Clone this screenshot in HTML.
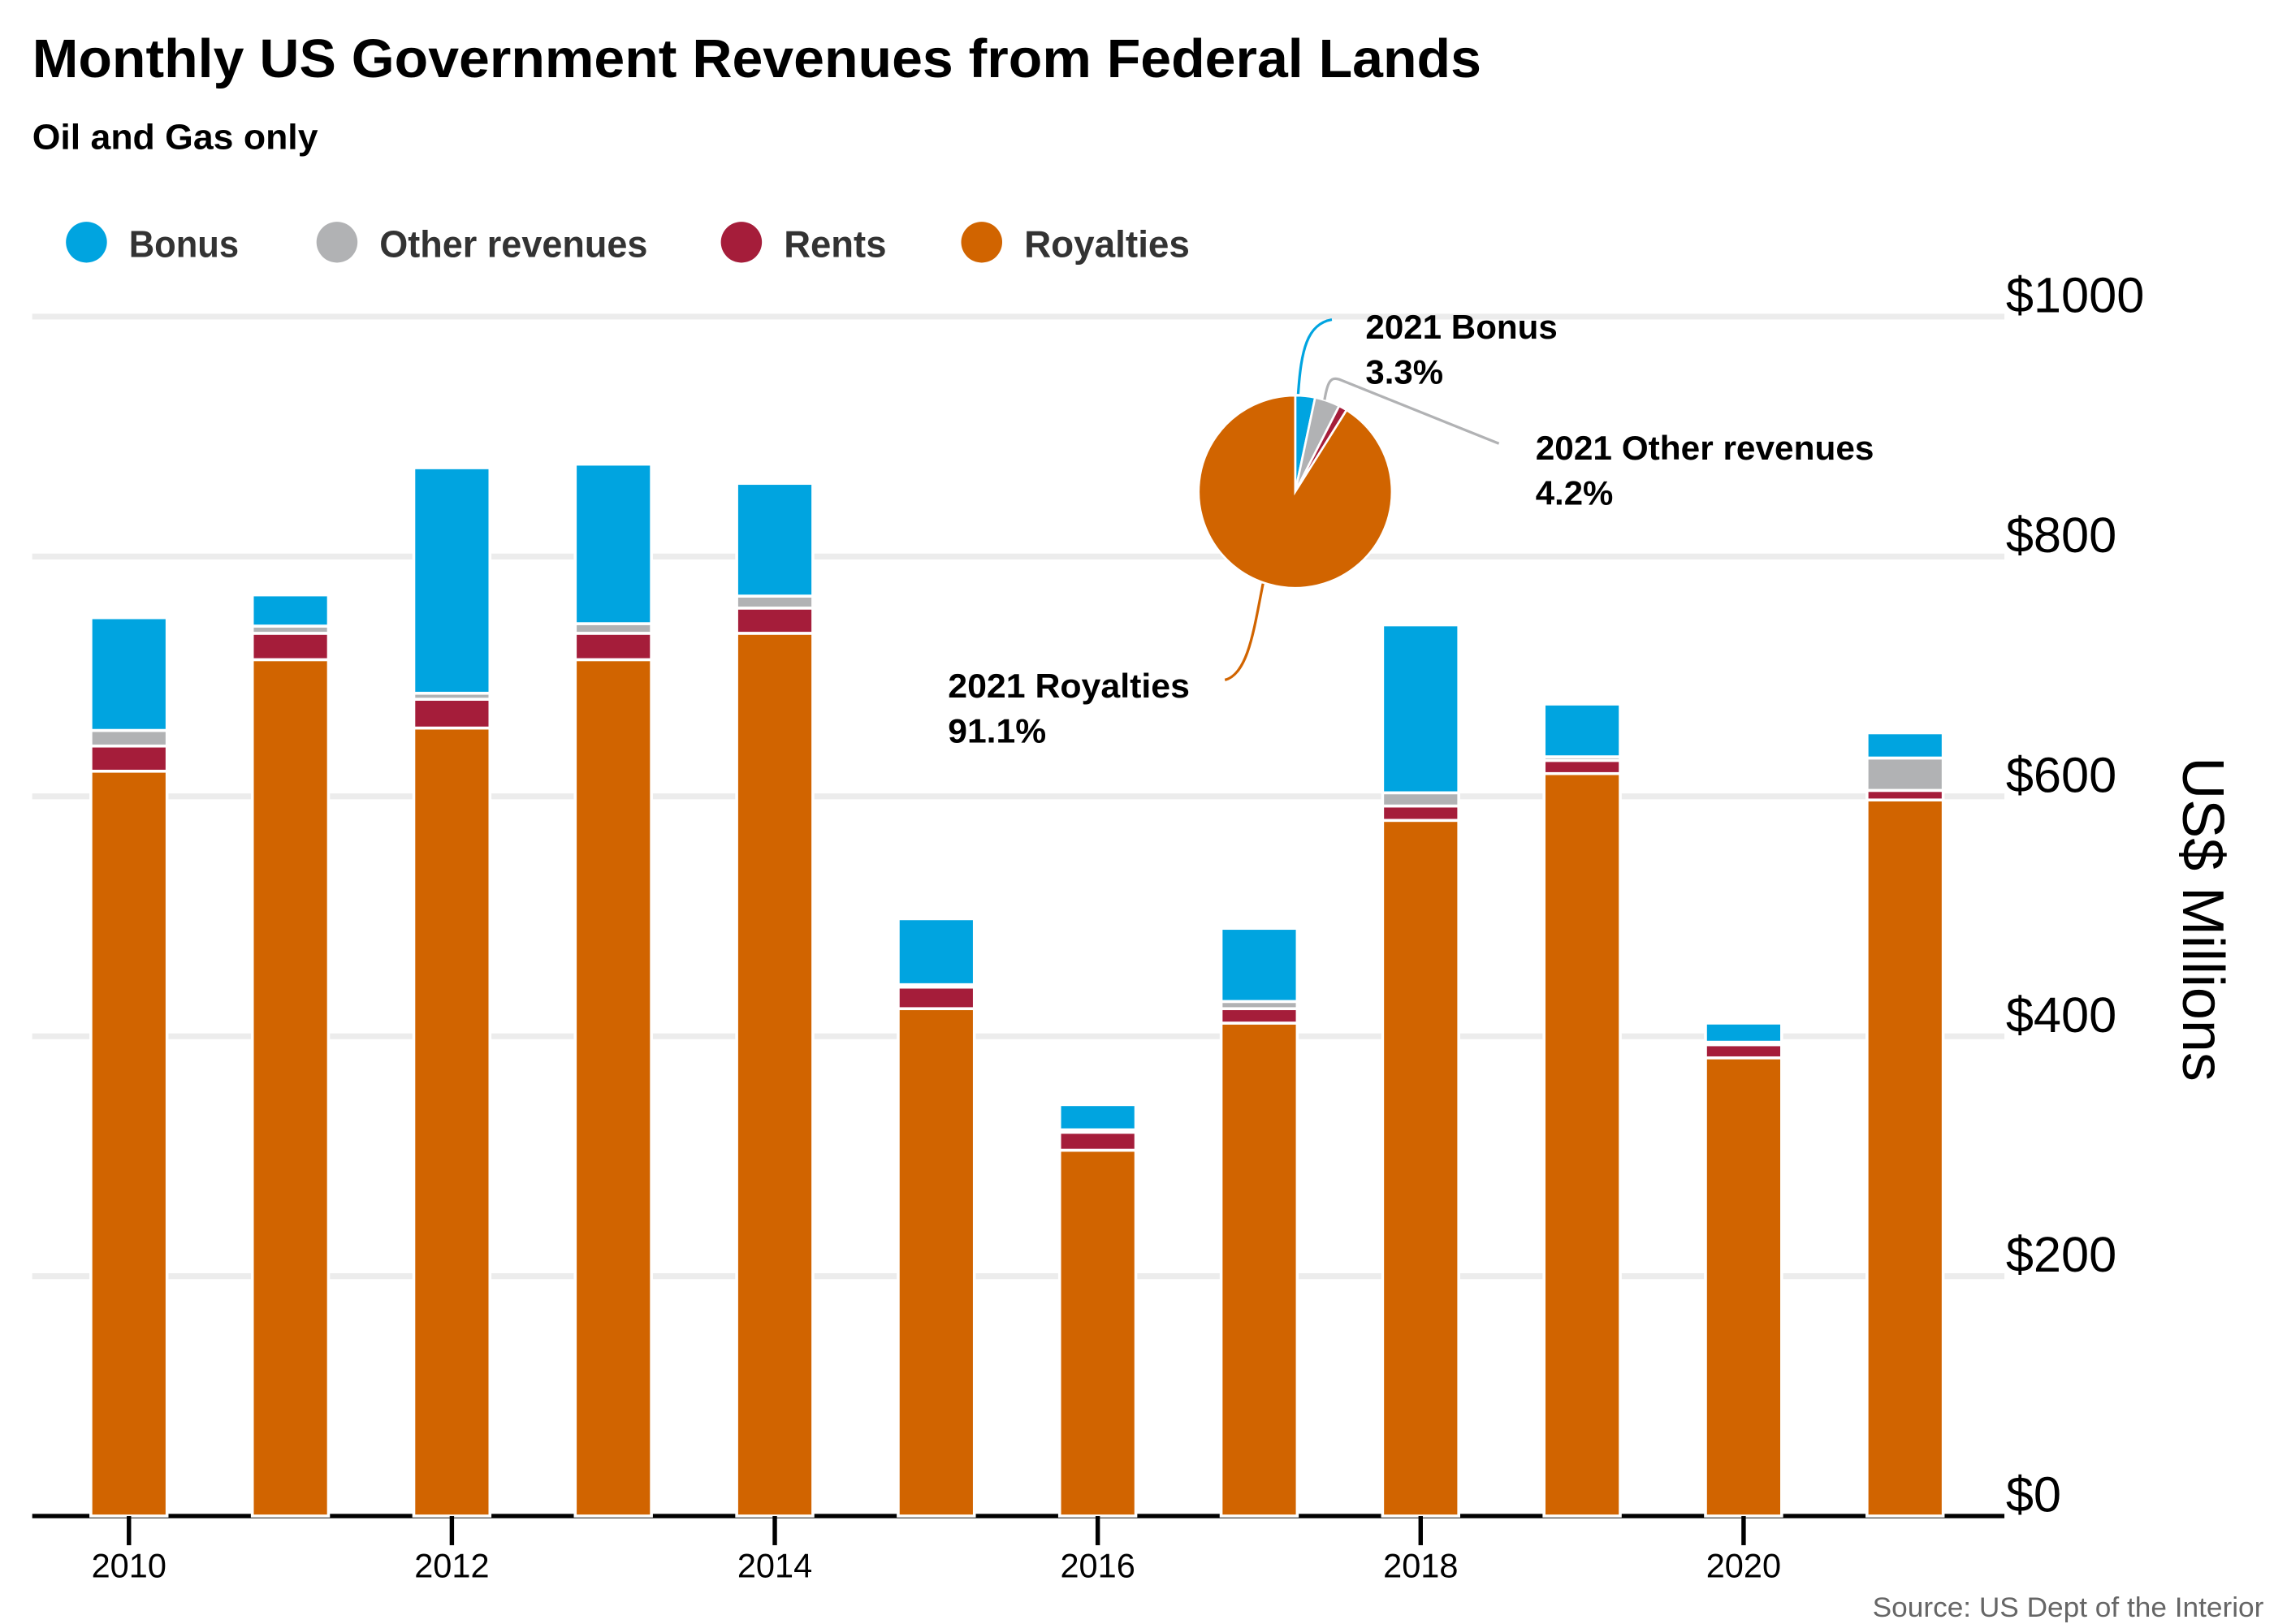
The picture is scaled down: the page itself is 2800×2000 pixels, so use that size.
<!DOCTYPE html>
<html><head><meta charset="utf-8">
<style>
html,body{margin:0;padding:0;background:#fff;}
svg{display:block;font-family:"Liberation Sans",sans-serif;}
</style></head>
<body>
<svg id="chart" width="2800" height="2000" viewBox="0 0 1552 1113" preserveAspectRatio="none" xmlns="http://www.w3.org/2000/svg">
<text x="22" y="53" font-size="37" font-weight="bold" fill="#000" textLength="989" lengthAdjust="spacingAndGlyphs">Monthly US Government Revenues from Federal Lands</text>
<text x="22" y="102" font-size="24" font-weight="bold" fill="#000" textLength="195" lengthAdjust="spacingAndGlyphs">Oil and Gas only</text>
<g id="legend"></g>
<g id="grid"></g>
<g id="bars"></g>
<g id="xaxis"></g>
<g id="yaxis"></g>
<text transform="translate(1490,630) rotate(90)" text-anchor="middle" font-size="40" fill="#000">US$ Millions</text>
<g id="pie"></g>
<text x="1545" y="1108" text-anchor="end" font-size="19" fill="#666" textLength="267" lengthAdjust="spacingAndGlyphs">Source: US Dept of the Interior</text>
</svg>
<script>
const years = [2010,2011,2012,2013,2014,2015,2016,2017,2018,2019,2020,2021];
const royalties = [621,714,657,714,736,423,305,411,580,619,382,597];
const rents = [21,22,24,22,21,18,15,12,12,11,11,8];
const otherRevenues = [13,6,5,8,10,2,2,6,11,3,2,27];
const bonus = [94,26,188,133,94,55,21,61,140,44,16,21];
const yTicks = [0,200,400,600,800,1000];
const yTickLabels = ["$0","$200","$400","$600","$800","$1000"];
const xTickYears = [2010,2012,2014,2016,2018,2020];
const pieLabels = ["Bonus","Other revenues","Rents","Royalties"];
const pieShares = [3.3,4.2,1.4,91.1];

const colors = {Bonus:"#00a4e0", "Other revenues":"#b1b2b4", Rents:"#a51d3a", Royalties:"#d16400"};
const NS = "http://www.w3.org/2000/svg";
function mk(tag, attrs, parent){const e=document.createElementNS(NS,tag);for(const k in attrs)e.setAttribute(k,attrs[k]);parent.appendChild(e);return e;}
const plotL=22, plotR=1368, y0=1039, yTop=217;
function yScale(v){return y0-(v/1000)*(y0-yTop);}
function xScale(yr){return 88+(yr-2010)*110.2;}
const bw=52;

// legend
const lg=document.getElementById('legend');
const legX=[59,230,506,670];
const legW=[75,183,70,113];
pieLabels.forEach((n,i)=>{
  const c=mk('circle',{cx:legX[i],cy:166,r:14,fill:colors[n]},lg);
  
  
  const t=mk('text',{x:legX[i]+29,y:176,'font-size':26,'font-weight':'bold',fill:'#333',textLength:legW[i],lengthAdjust:'spacingAndGlyphs'},lg);
  t.textContent=n;
  
  
});

// grid & y axis
const gr=document.getElementById('grid'), ya=document.getElementById('yaxis');
yTicks.forEach((v,i)=>{
  if(v>0){const l=mk('line',{x1:plotL,x2:plotR,y1:yScale(v),y2:yScale(v),stroke:'#ececec','stroke-width':4},gr);
  
  }
  const t=mk('text',{x:1369,y:yScale(v)-3,'font-size':34,fill:'#000'},ya);
  t.textContent=yTickLabels[i];
  
  
});

// baseline
const xa=document.getElementById('xaxis');
const base=mk('line',{x1:plotL,x2:plotR,y1:y0,y2:y0,stroke:'#000','stroke-width':3},document.getElementById('grid'));



// bars
const bg=document.getElementById('bars');
years.forEach((yr,i)=>{
  const segs=[["Royalties",royalties[i]],["Rents",rents[i]],["Other revenues",otherRevenues[i]],["Bonus",bonus[i]]];
  let cum=0;
  segs.forEach(([n,v])=>{
    const yb=yScale(cum), yt=yScale(cum+v);
    const r=mk('rect',{x:xScale(yr)-bw/2,y:yt,width:bw,height:Math.max(0,yb-yt),fill:colors[n],stroke:'#fff','stroke-width':2},bg);
    
    
    cum+=v;
  });
});

// x ticks
xTickYears.forEach(yr=>{
  const l=mk('line',{x1:xScale(yr),x2:xScale(yr),y1:y0,y2:y0+20,stroke:'#000','stroke-width':3},xa);
  
  
  const t=mk('text',{x:xScale(yr),y:1081,'text-anchor':'middle','font-size':23,fill:'#000'},xa);
  t.textContent=yr;
  
  
});

// pie
const pg=document.getElementById('pie');
const cx=884, cy=337, R=66;
let a0=0;
const tot=pieShares.reduce((a,b)=>a+b,0);
pieShares.forEach((s,i)=>{
  const a1=a0+s/tot*2*Math.PI;
  const p0=[cx+R*Math.sin(a0),cy-R*Math.cos(a0)], p1=[cx+R*Math.sin(a1),cy-R*Math.cos(a1)];
  const large=(a1-a0)>Math.PI?1:0;
  const p=mk('path',{d:`M${cx},${cy}L${p0[0]},${p0[1]}A${R},${R} 0 ${large} 1 ${p1[0]},${p1[1]}Z`,fill:colors[pieLabels[i]],stroke:'#fff','stroke-width':1.5},pg);
  
  
  a0=a1;
});
// annotations
function ann(d,col,name){const p=mk('path',{d:d,fill:'none',stroke:col,'stroke-width':1.8},pg);}
ann('M886,270 C888,240 892,222 909,219',colors.Bonus,'bonus-leader');
ann('M904,274 C906,262 908,258 914,260 L1023,304','#b1b2b4','other-leader');
ann('M862,400 C856,430 852,462 836,466',colors.Royalties,'royalties-leader');
function lbl(x,y,lines,lens,name){lines.forEach((s,k)=>{const t=mk('text',{x:x,y:y+k*31,'font-size':23,'font-weight':'bold',fill:'#000',textLength:lens[k],lengthAdjust:'spacingAndGlyphs'},pg);t.textContent=s;});}
lbl(932,232,["2021 Bonus",pieShares[0]+"%"],[131,53],'pie-label-bonus');
lbl(1048,315,["2021 Other revenues",pieShares[1]+"%"],[231,53],'pie-label-other-revenues');
lbl(647,478,["2021 Royalties",pieShares[3]+"%"],[165,67],'pie-label-royalties');
</script>
</body></html>
